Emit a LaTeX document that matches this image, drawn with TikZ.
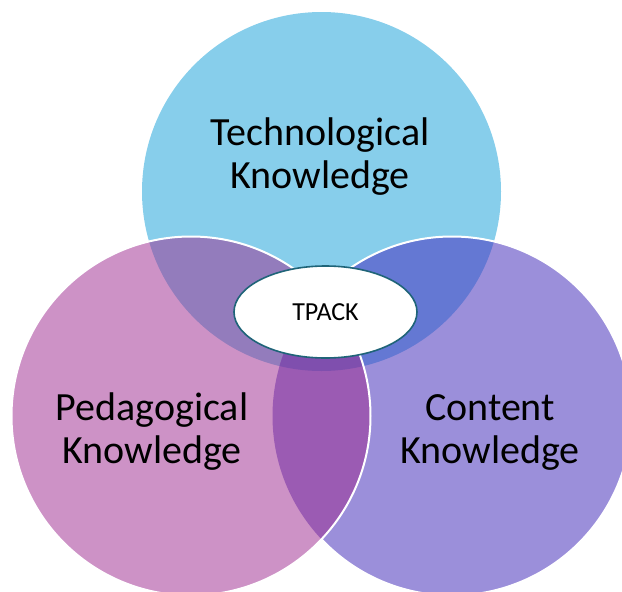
\documentclass[tikz,border=0pt]{standalone}
\usepackage{fontspec}
\setmainfont{Carlito}
\usetikzlibrary{shapes.geometric}
\definecolor{cT}{HTML}{87CEEB}
\definecolor{cL}{HTML}{CD92C6}
\definecolor{cR}{HTML}{9B8FDA}
\definecolor{cTL}{HTML}{937CBC}
\definecolor{cTR}{HTML}{6478D3}
\definecolor{cLR}{HTML}{9B5BB3}
\definecolor{cTLR}{HTML}{7F4FAE}
\definecolor{rim}{HTML}{1F6478}
\tikzset{
  big/.style={font=\fontsize{40}{43}\selectfont, align=center, text=black},
  core/.style={ellipse, draw=rim, line width=1.6pt, fill=white, minimum width=183pt, minimum height=92pt, inner sep=0pt, font=\fontsize{26}{30}\selectfont},
  edge/.style={draw=white, line width=2pt}
}
\begin{document}
\begin{tikzpicture}[x=1pt,y=-1pt]
\useasboundingbox (0,0) rectangle (622,592);
\clip (0,0) rectangle (622,592);
\def\rr{179.5}
\coordinate (T) at (321.5,191.5);
\coordinate (L) at (191,416);
\coordinate (R) at (452,416);
% top circle
\fill[cT] (T) circle (\rr);
% right circle
\fill[cR] (R) circle (\rr);
\begin{scope}
  \clip (T) circle (\rr);
  \fill[cTR] (R) circle (\rr);
\end{scope}
\draw[edge] (R) circle (\rr);
% left circle
\fill[cL] (L) circle (\rr);
\begin{scope}
  \clip (T) circle (\rr);
  \fill[cTL] (L) circle (\rr);
\end{scope}
\begin{scope}
  \clip (R) circle (\rr);
  \fill[cLR] (L) circle (\rr);
\end{scope}
\begin{scope}
  \clip (R) circle (\rr);
  \clip (T) circle (\rr);
  \fill[cTLR] (L) circle (\rr);
\end{scope}
\draw[edge] (L) circle (\rr);
% labels
\node[big] (tk) at (320,157) {Technological\\Knowledge};
\node[big] (pk) at (152,432) {Pedagogical\\Knowledge};
\node[big] (ck) at (490,432) {Content\\Knowledge};
\node[core] (tp) at (325.5,312) {TPACK};
\end{tikzpicture}
\end{document}
